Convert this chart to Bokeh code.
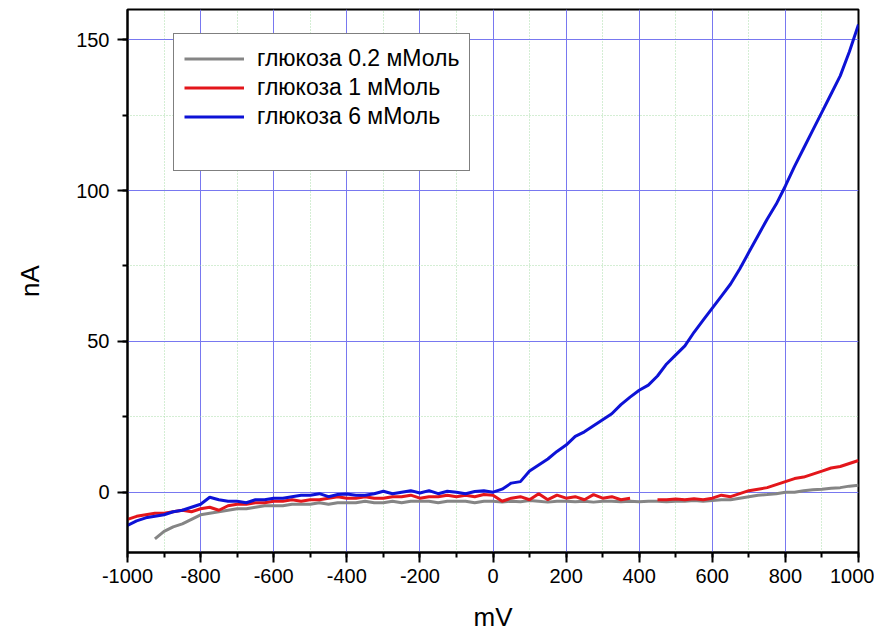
import math
from bokeh.plotting import figure
from bokeh.models import (Range1d, SingleIntervalTicker, Legend, LegendItem,
                          ColumnDataSource, PrintfTickFormatter)
from bokeh.embed import file_html
from bokeh.resources import INLINE

NAN = float("nan")

mv = [-1000, -975, -950, -925, -900, -875, -850, -825, -800, -775,
      -750, -725, -700, -675, -650, -625, -600, -575, -550, -525,
      -500, -475, -450, -425, -400, -375, -350, -325, -300, -275,
      -250, -225, -200, -175, -150, -125, -100, -75, -50, -25,
      0, 25, 50, 75, 100, 125, 150, 175, 200, 225,
      250, 275, 300, 325, 350, 375, 400, 425, 450, 475,
      500, 525, 550, 575, 600, 625, 650, 675, 700, 725,
      750, 775, 800, 825, 850, 875, 900, 925, 950, 975, 1000]

glu_02 = [NAN, NAN, NAN, -15.5, -13, -11.5, -10.5, -9, -7.5, -7,
          -6.5, -6, -5.5, -5.5, -5, -4.5, -4.5, -4.5, -4, -4,
          -4, -3.5, -4, -3.5, -3.5, -3.5, -3, -3.5, -3.5, -3,
          -3.5, -3, -3, -3, -3.5, -3, -3, -3, -3.5, -3,
          -3, -3.3, -3, -3.2, -2.8, -3, -3.3, -3, -3, -3.2,
          -3, -3.3, -3, -3, -3.2, -3, -3.2, -3, -3, -3.2,
          -3, -3, -2.8, -3, -2.8, -2.5, -2.5, -2, -1.5, -1,
          -0.8, -0.5, 0, 0, 0.5, 0.8, 1, 1.3, 1.5, 2, 2.3]

glu_1 = [-9, -8, -7.5, -7, -7, -6.5, -6, -6.5, -5.5, -5,
         -6, -4.5, -4, -4, -3.5, -3.5, -3, -3, -2.5, -3,
         -2.5, -2.5, -2, -1.5, -2, -2, -1.5, -2, -2, -1.5,
         -1.5, -1, -2, -1.5, -1.5, -1, -1.5, -1, -1.5, -0.8,
         -1, -3, -2, -1.5, -2.5, -0.5, -2.5, -1, -2, -1.5,
         -2.5, -0.8, -2, -1.5, -2.5, -2, NAN, NAN, -2.5, -2.5,
         -2.3, -2.5, -2.2, -2.5, -2, -1, -1.5, -0.5, 0.5, 1,
         1.5, 2.5, 3.5, 4.5, 5, 6, 7, 8, 8.5, 9.5, 10.5]

glu_6 = [-11, -9.5, -8.5, -8, -7.5, -6.5, -6, -5, -4, -1.7,
         -2.5, -3, -3, -3.5, -2.5, -2.5, -2, -2, -1.5, -1,
         -1, -0.5, -1.5, -0.8, -0.6, -1, -1, -0.5, 0.3, -0.5,
         0, 0.5, -0.3, 0.5, -0.5, 0.3, 0, -0.5, 0.2, 0.5,
         0, 1, 3, 3.5, 7, 9, 11, 13.5, 15.6, 18.5,
         20, 22, 24, 26, 29, 31.5, 33.8, 35.5, 38.5, 42.5,
         45.5, 48.5, 53, 57, 61, 65, 69, 74, 79.5, 85,
         90.5, 95.5, 101.5, 108, 114, 120, 126, 132, 138, 146, 155]

labels = ["глюкоза 0.2 мМоль", "глюкоза 1 мМоль", "глюкоза 6 мМоль"]
colors = ["#858585", "#e3161b", "#0d12d6"]

FONT = "Liberation Sans"

p = figure(width=874, height=637, output_backend="svg", toolbar_location=None,
           x_range=Range1d(-1000, 1000), y_range=Range1d(-20, 160),
           min_border_left=127, min_border_right=16, min_border_top=9,
           min_border_bottom=85)
p.title.visible = False
p.background_fill_color = "white"
p.border_fill_color = "white"
p.outline_line_color = "black"
p.outline_line_width = 2

p.xaxis.ticker = SingleIntervalTicker(interval=200, num_minor_ticks=2)
p.yaxis.ticker = SingleIntervalTicker(interval=50, num_minor_ticks=2)
p.xaxis.formatter = PrintfTickFormatter(format="%d")
p.yaxis.formatter = PrintfTickFormatter(format="%d")

for ax in (p.xaxis[0], p.yaxis[0]):
    ax.axis_line_color = "black"
    ax.axis_line_width = 2
    ax.major_tick_line_color = "black"
    ax.major_tick_line_width = 2
    ax.minor_tick_line_color = "black"
    ax.minor_tick_line_width = 2
    ax.major_tick_out = 10
    ax.major_tick_in = 0
    ax.minor_tick_out = 5
    ax.minor_tick_in = 0
    ax.major_label_text_font = FONT
    ax.major_label_text_font_size = "20px"
    ax.major_label_text_color = "black"
    ax.axis_label_text_font = FONT
    ax.axis_label_text_font_size = "26px"
    ax.axis_label_text_font_style = "normal"
    ax.axis_label_text_color = "black"

p.xaxis.axis_label = "mV"
p.yaxis.axis_label = "nA"
p.xaxis.major_label_standoff = 6
p.yaxis.major_label_standoff = 8
p.xaxis.axis_label_standoff = 16
p.yaxis.axis_label_standoff = 28

for g in (p.xgrid[0], p.ygrid[0]):
    g.grid_line_color = "#7878f0"
    g.grid_line_width = 1
    g.minor_grid_line_color = "#a8dca8"
    g.minor_grid_line_dash = "1 2"
    g.minor_grid_line_width = 1

renderers = []
for ys, c in zip([glu_02, glu_1, glu_6], colors):
    src = ColumnDataSource(dict(x=mv, y=ys))
    r = p.line("x", "y", source=src, line_color=c, line_width=3)
    renderers.append(r)

# invisible placeholder row to reproduce the legend box's empty bottom space
blank = p.line(x=[NAN], y=[NAN], line_alpha=0)

items = [LegendItem(label=l, renderers=[r]) for l, r in zip(labels, renderers)]
items.append(LegendItem(label=" ", renderers=[blank]))
legend = Legend(items=items, location=(46, 381), orientation="vertical")
legend.label_text_font = FONT
legend.label_text_font_size = "23px"
legend.label_text_color = "black"
legend.label_height = 29
legend.glyph_height = 29
legend.glyph_width = 60
legend.label_standoff = 13
legend.spacing = 0
legend.padding = 10
legend.margin = 0
legend.border_line_color = "black"
legend.border_line_width = 1
legend.background_fill_color = "white"
legend.background_fill_alpha = 1
p.add_layout(legend, "center")

open("out.html", "w").write(file_html(p, INLINE))
